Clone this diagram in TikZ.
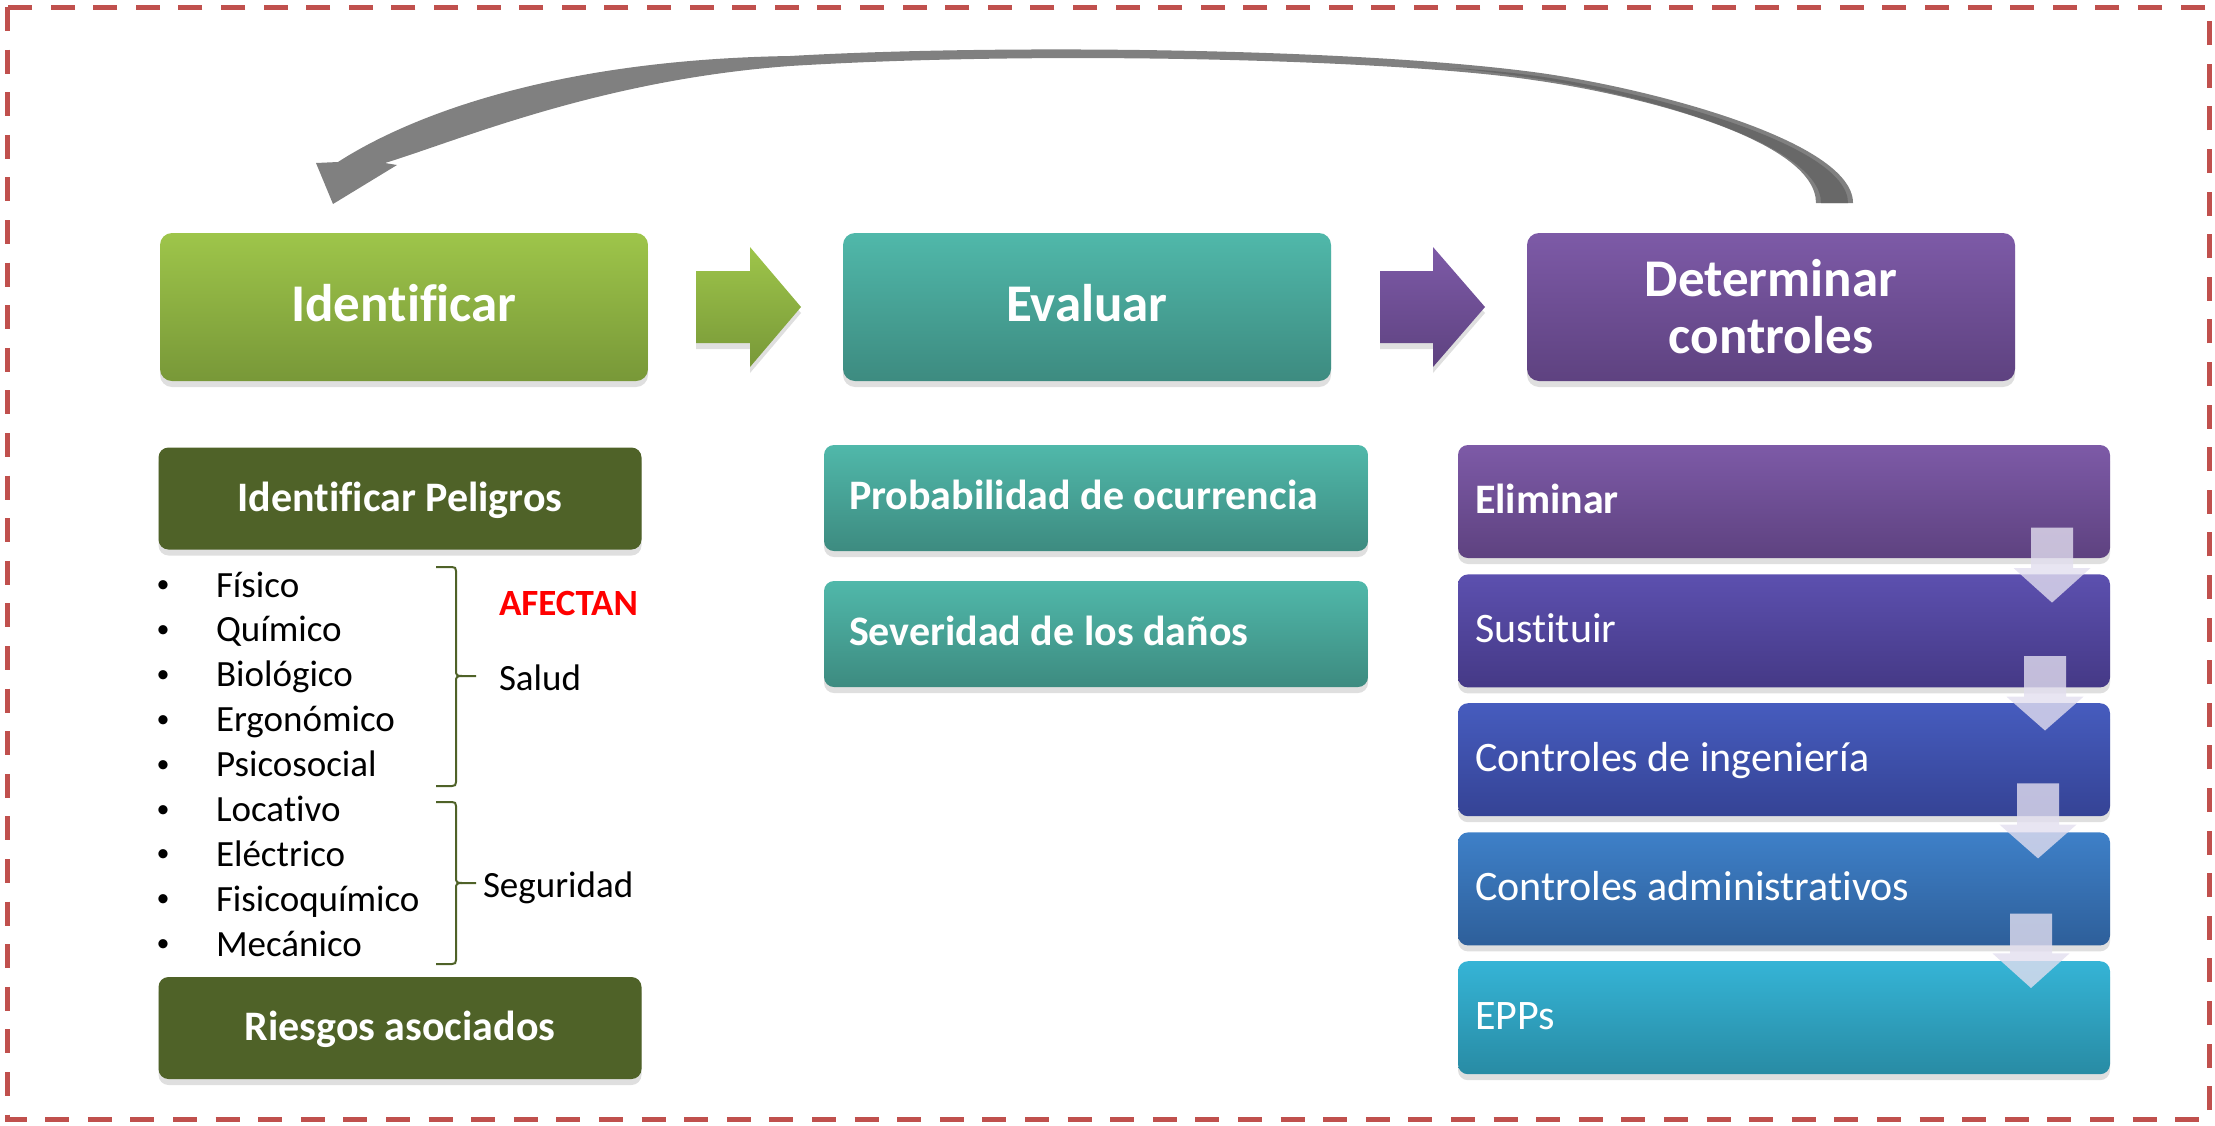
\documentclass[tikz,border=0pt]{standalone}
\usepackage{fontspec}
\setmainfont{Carlito}[Ligatures=NoCommon]
\usetikzlibrary{shadows}
\definecolor{borderred}{HTML}{C0504D}
\definecolor{greenT}{HTML}{9EC54A}
\definecolor{greenB}{HTML}{789838}
\definecolor{tealT}{HTML}{50B8AA}
\definecolor{tealB}{HTML}{3D8B80}
\definecolor{purpT}{HTML}{7D5AA7}
\definecolor{purpB}{HTML}{5E4280}
\definecolor{oliveC}{HTML}{4F6228}
\definecolor{sustT}{HTML}{5C50AF}
\definecolor{sustB}{HTML}{453986}
\definecolor{ingT}{HTML}{465CBE}
\definecolor{ingB}{HTML}{354395}
\definecolor{admT}{HTML}{3E80C8}
\definecolor{admB}{HTML}{2E5F9A}
\definecolor{eppT}{HTML}{35B4D6}
\definecolor{eppB}{HTML}{288BA4}
\definecolor{arrowgray}{HTML}{808080}
\definecolor{arrowdark}{HTML}{686868}
\definecolor{arrowlav}{HTML}{E2DEEF}
\definecolor{bracegreen}{HTML}{4F6228}
\begin{document}
\begin{tikzpicture}[x=1pt,y=-1pt,
  every node/.style={inner sep=0pt, outer sep=0pt},
  shadowed/.style={drop shadow={shadow xshift=0pt, shadow yshift=-6pt, opacity=0.25}},
  mainbox/.style={shadowed, rounded corners=12pt, minimum width=488pt, minimum height=148pt, text=white, font=\fontsize{53}{57}\selectfont\bfseries, align=center},
  olivebox/.style={shadowed, rounded corners=10pt, fill=oliveC, minimum width=483pt, minimum height=102pt, text=white, font=\fontsize{42}{48}\selectfont\bfseries, text height=32pt, text depth=7pt},
  subbox/.style={shadowed, rounded corners=10pt, minimum width=544pt, minimum height=106pt},
  ctrlbox/.style={shadowed, rounded corners=10pt, minimum width=652pt, minimum height=113pt},
  boxtext/.style={anchor=base west, text=white, font=\fontsize{42}{48}\selectfont},
  boldtext/.style={boxtext, font=\fontsize{42}{48}\selectfont\bfseries},
  listtext/.style={anchor=base west, font=\fontsize{37}{44}\selectfont},
  bullettext/.style={anchor=base, font=\fontsize{26}{30}\selectfont},
  bracestyle/.style={draw=bracegreen, line width=2pt},
  downarrow/.style={fill=arrowlav, fill opacity=0.8},
]
\useasboundingbox (0,0) rectangle (2215,1125);

% dashed frame
\draw[borderred, line width=5pt, dash pattern=on 24pt off 18.6pt] (7,7) rectangle (2209,1119);

% curved return arrow
\fill[arrowgray] (1853,203) .. controls (1853,140) and (1643,86.4) .. (1533,72)
  .. controls (1350,48) and (1000,44) .. (790,56)
  .. controls (540,60) and (400,122) .. (338,162)
  -- (316,163) -- (333,204) -- (397,165) -- (385,163)
  .. controls (460,140) and (600,80) .. (790,66)
  .. controls (1050,50) and (1400,60) .. (1533,80)
  .. controls (1640,95) and (1816,140) .. (1816,203) -- cycle;
\fill[arrowdark] (1848,203) .. controls (1848,143) and (1640,90) .. (1533,75.5)
  .. controls (1500,71) and (1470,69) .. (1450,68)
  .. controls (1475,70) and (1505,74) .. (1533,78)
  .. controls (1640,94) and (1821,143) .. (1821,203) -- cycle;

% main boxes
\node[mainbox, top color=greenT, bottom color=greenB, text height=36pt, text depth=7pt] (ident) at (404,307) {Identificar};
\node[mainbox, top color=tealT, bottom color=tealB, text height=36pt, text depth=7pt] (eval) at (1087,307) {Evaluar};
\node[mainbox, top color=purpT, bottom color=purpB] (deter) at (1771,307) {Determinar\\controles};

% block arrows
\shade[shadowed, top color=greenT, bottom color=greenB] (696,271) -- (750,271) -- (750,247) -- (801,307) -- (750,367) -- (750,343) -- (696,343) -- cycle;
\shade[shadowed, top color=purpT, bottom color=purpB] (1380,271) -- (1433,271) -- (1433,247) -- (1485,307) -- (1433,367) -- (1433,343) -- (1380,343) -- cycle;

% left column
\node[olivebox] (peligros) at (400,498.5) {Identificar Peligros};
\node[olivebox] (riesgos) at (400,1028) {Riesgos asociados};
\foreach \t [count=\i from 0] in {Físico, Químico, Biológico, Ergonómico, Psicosocial, Locativo, Eléctrico, Fisicoquímico, Mecánico}{
  \node[bullettext] (bul\i) at (163,{592.5+44.9*\i}) {•};
  \node[listtext] (item\i) at (216,{597+44.9*\i}) {\t};
}
% braces
\draw[bracestyle] (436,567) -- (452,567) .. controls (455,567) and (456,568) .. (456,571) -- (456,671) .. controls (456,675) and (457,676) .. (462,676) -- (476,676);
\draw[bracestyle] (436,786) -- (452,786) .. controls (455,786) and (456,785) .. (456,782) -- (456,681) .. controls (456,677) and (457,676) .. (462,676);
\draw[bracestyle] (436,802) -- (452,802) .. controls (455,802) and (456,803) .. (456,806) -- (456,878) .. controls (456,882) and (457,883) .. (462,883) -- (476,883);
\draw[bracestyle] (436,964) -- (452,964) .. controls (455,964) and (456,963) .. (456,960) -- (456,888) .. controls (456,884) and (457,883) .. (462,883);
\node[listtext, text=red, font=\fontsize{37}{44}\selectfont\bfseries] (afectan) at (499,615) {AFECTAN};
\node[listtext] (salud) at (499,690) {Salud};
\node[listtext] (seguridad) at (483,897) {Seguridad};

% middle column
\node[subbox, top color=tealT, bottom color=tealB] (prob) at (1096,498) {};
\node[boldtext] (probt) at (849,509) {Probabilidad de ocurrencia};
\node[subbox, top color=tealT, bottom color=tealB] (sev) at (1096,634) {};
\node[boldtext] (sevt) at (849,645) {Severidad de los daños};

% right column
\node[ctrlbox, top color=purpT, bottom color=purpB] (elim) at (1784,501.5) {};
\node[ctrlbox, top color=sustT, bottom color=sustB] (sust) at (1784,630.9) {};
\node[ctrlbox, top color=ingT, bottom color=ingB] (ing) at (1784,759.7) {};
\node[ctrlbox, top color=admT, bottom color=admB] (adm) at (1784,888.9) {};
\node[ctrlbox, top color=eppT, bottom color=eppB] (epp) at (1784,1017.7) {};
\node[boldtext] (elimt) at (1475,513) {Eliminar};
\node[boxtext] (sustt) at (1475,642.4) {Sustituir};
\node[boxtext] (ingt) at (1475,771.2) {Controles de ingeniería};
\node[boxtext] (admt) at (1475,900.4) {Controles administrativos};
\node[boxtext] (eppt) at (1475,1029.2) {EPPs};

% down arrows
\foreach \cx/\tp/\hd/\tip in {2052/527.6/568/602.6, 2045/656/696.7/730.5, 2038/783.4/824.6/858.4, 2031/913.5/953.4/988}{
  \fill[downarrow] (\cx-21,\tp) -- (\cx+21,\tp) -- (\cx+21,\hd) -- (\cx+38.5,\hd) -- (\cx,\tip) -- (\cx-38.5,\hd) -- (\cx-21,\hd) -- cycle;
}
\end{tikzpicture}
\end{document}
